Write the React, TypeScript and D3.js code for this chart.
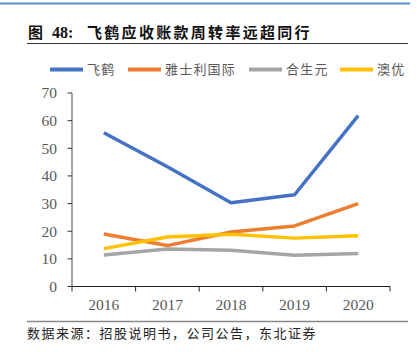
import React from "react";
import * as d3 from "d3";

const years = ["2016", "2017", "2018", "2019", "2020"];
const feihe = [55.6, 43.3, 30.3, 33.2, 61.8];
const yashili = [19.0, 14.8, 19.7, 21.9, 30.0];
const heshengyuan = [11.4, 13.6, 13.1, 11.3, 11.9];
const aoyou = [13.7, 17.9, 18.9, 17.5, 18.4];
const yTicks = [0, 10, 20, 30, 40, 50, 60, 70];

const seriesNames = ["飞鹤", "雅士利国际", "合生元", "澳优"];
const seriesColors = ["#4472C4", "#ED7D31", "#A5A5A5", "#FFC000"];
const seriesData = [feihe, yashili, heshengyuan, aoyou];

const legendX = [50, 128, 249, 340];

export default function App() {
  const W = 418, H = 352;
  const x = d3.scaleBand<string>().domain(years).range([72, 390]).padding(0);
  const y = d3.scaleLinear().domain([0, 70]).range([286.5, 93]);
  const line = d3
    .line<number>()
    .x((_, i) => (x(years[i]) as number) + x.bandwidth() / 2)
    .y((d) => y(d));
  const serif = "'Liberation Serif', 'DejaVu Serif', serif";
  const cjk = "'Noto Sans CJK SC', sans-serif";
  const boundaries = [...years.map((yr) => x(yr) as number), 390];

  return (
    <svg width={W} height={H} style={{ position: "absolute", left: 0, top: 0 }}>
      <rect x={0} y={0} width={W} height={H} fill="#fff" />
      <line x1={0} x2={410} y1={3.5} y2={3.5} stroke="#5B8BC9" strokeWidth={2} />
      <text x={28} y={38} fontFamily={cjk} fontWeight="bold" fontSize={15} fill="#111" letterSpacing={1.5}>
        图
      </text>
      <text x={52} y={38} fontFamily={serif} fontWeight="bold" fontSize={16} fill="#111">
        48:
      </text>
      <text x={87} y={38} fontFamily={cjk} fontWeight="bold" fontSize={15} fill="#111" letterSpacing={2.3}>
        飞鹤应收账款周转率远超同行
      </text>
      <line x1={27} x2={408} y1={43.5} y2={43.5} stroke="#333" strokeWidth={1} />

      {seriesNames.map((n, i) => (
        <g key={n}>
          <line x1={legendX[i]} x2={legendX[i] + 33} y1={69.5} y2={69.5} stroke={seriesColors[i]} strokeWidth={4} />
          <text x={legendX[i] + 37} y={74} fontFamily={cjk} fontSize={13} fill="#595959" letterSpacing={1.2}>
            {n}
          </text>
        </g>
      ))}

      <line x1={72} x2={72} y1={93} y2={286.5} stroke="#888" strokeWidth={1.5} />
      {yTicks.map((t) => (
        <g key={t}>
          <line x1={67.5} x2={72} y1={y(t)} y2={y(t)} stroke="#333" strokeWidth={1} />
          <text x={57} y={y(t)} dy="0.35em" textAnchor="end" fontFamily={serif} fontSize={15.5} fill="#595959">
            {t}
          </text>
        </g>
      ))}
      <line x1={72} x2={390} y1={286.5} y2={286.5} stroke="#222" strokeWidth={1.2} />
      {boundaries.map((bx, i) => (
        <line key={i} x1={bx} x2={bx} y1={286.5} y2={291.5} stroke="#222" strokeWidth={1} />
      ))}
      {years.map((yr) => (
        <text
          key={yr}
          x={(x(yr) as number) + x.bandwidth() / 2}
          y={310}
          textAnchor="middle"
          fontFamily={serif}
          fontSize={15.5}
          fill="#595959"
        >
          {yr}
        </text>
      ))}

      {seriesData.map((d, i) => (
        <path
          key={i}
          d={line(d) as string}
          fill="none"
          stroke={seriesColors[i]}
          strokeWidth={3.5}
          strokeLinejoin="round"
        />
      ))}

      <line x1={27} x2={408} y1={321.5} y2={321.5} stroke="#888" strokeWidth={1.5} />
      <text x={27} y={338} fontFamily={cjk} fontSize={13} fill="#222" letterSpacing={1.5}>
        数据来源：招股说明书，公司公告，东北证券
      </text>
    </svg>
  );
}
